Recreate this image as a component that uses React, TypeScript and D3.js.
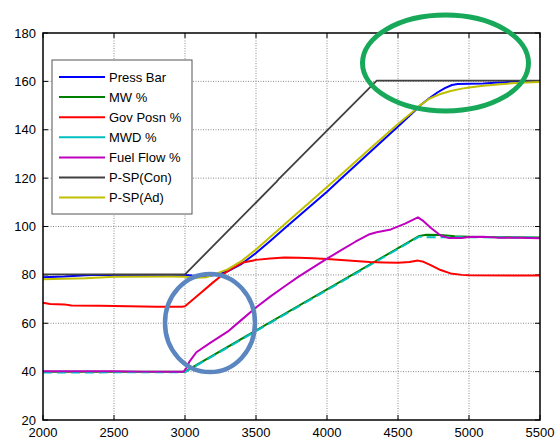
import React, { useEffect, useRef } from "react";
import * as d3 from "d3";

const W = 559;
const H = 442;

const xTicks = [2000, 2500, 3000, 3500, 4000, 4500, 5000, 5500];
const yTicks = [20, 40, 60, 80, 100, 120, 140, 160, 180];

const pressBar: [number, number][] = [
  [2000, 79], [2150, 79.3], [2300, 79.8], [2400, 80], [3000, 80], [3050, 79.7], [3150, 79.4],
  [3220, 80], [3300, 81.5], [3400, 84.6], [3500, 89], [3600, 94], [3700, 99.2], [3800, 104.2],
  [3900, 109.3], [4000, 114.4], [4100, 119.8], [4200, 125.2], [4300, 130.6], [4400, 136], [4500, 141.3],
  [4600, 146.8], [4660, 150.2], [4720, 153], [4780, 155.5], [4830, 157.2], [4880, 158.5],
  [4920, 158.9], [5000, 159], [5100, 159.1], [5180, 159.4], [5250, 159.6], [5320, 160], [5500, 160],
];
const mw: [number, number][] = [
  [2000, 40], [3000, 40], [4650, 96.1], [4700, 96.6], [4800, 96.5], [4900, 96], [5000, 95.8],
  [5200, 95.6], [5500, 95.5],
];
const govPosn: [number, number][] = [
  [2000, 68.5], [2050, 68], [2150, 67.8], [2200, 67.3], [2400, 67.2], [2600, 67], [2800, 66.8],
  [2980, 66.8], [3000, 67], [3100, 72], [3200, 77], [3250, 79.3], [3300, 81.5], [3400, 85],
  [3500, 86.2], [3600, 86.8], [3700, 87.2], [3800, 87.1], [3900, 86.9], [4000, 86.6], [4100, 86.2],
  [4200, 85.7], [4300, 85.3], [4400, 85.1], [4500, 85], [4580, 85.3], [4640, 85.9], [4680, 85.4],
  [4730, 84], [4800, 82], [4870, 80.6], [4950, 80], [5000, 79.8], [5500, 79.7],
];
const mwd: [number, number][] = [
  [2000, 39.6], [3000, 39.8], [4650, 95.8], [4700, 95.6], [5000, 95.6], [5500, 95.4],
];
const fuelFlow: [number, number][] = [
  [2000, 40.2], [2500, 40.2], [2700, 40], [2990, 40], [3010, 41.5], [3030, 44], [3080, 48],
  [3180, 52], [3300, 56.5], [3400, 61.5], [3500, 66.5], [3600, 71], [3700, 75.2], [3800, 79.3],
  [3900, 83], [4000, 86.7], [4100, 90.2], [4200, 93.7], [4300, 96.8], [4350, 97.6], [4450, 98.8],
  [4550, 101.2], [4640, 103.8], [4680, 102.2], [4730, 99.5], [4800, 96.3], [4860, 95.2],
  [4950, 95.2], [5000, 95.7], [5100, 95.8], [5200, 95.4], [5350, 95.3], [5500, 95.1],
];
const pspCon: [number, number][] = [
  [2000, 80.2], [3000, 80.2], [3640, 118.2], [3660, 119.6], [4350, 160.3], [5500, 160.3],
];
const pspAd: [number, number][] = [
  [2000, 78.2], [2300, 78.6], [2500, 79.2], [2900, 79.3], [3000, 79.2], [3080, 78.8], [3150, 79],
  [3220, 80.5], [3300, 82.3], [3400, 85.8], [3500, 90.5], [3600, 95.7], [3700, 100.8], [3800, 106],
  [3900, 111.2], [4000, 116.3], [4100, 121.5], [4200, 126.8], [4300, 132], [4400, 137.2], [4500, 142.4],
  [4600, 147.2], [4660, 150.3], [4720, 152.8], [4800, 154.8], [4870, 156], [4950, 157], [5000, 157.5],
  [5100, 158.2], [5200, 158.7], [5300, 159.2], [5400, 159.5], [5500, 159.7],
];

const seriesNames = ["Press Bar", "MW %", "Gov Posn %", "MWD %", "Fuel Flow %", "P-SP(Con)", "P-SP(Ad)"];
const seriesColors = ["#0000ff", "#008000", "#ff0000", "#00bfbf", "#bf00bf", "#404040", "#bfbf00"];
const seriesData = [pressBar, mw, govPosn, mwd, fuelFlow, pspCon, pspAd];

const FONT = "'Liberation Sans', Arial, sans-serif";

export default function App() {
  const ref = useRef<SVGSVGElement>(null);

  useEffect(() => {
    const svg = d3.select(ref.current);
    svg.selectAll("*").remove();

    const left = 43, right = 540, top = 33, bottom = 420;
    const x = d3.scaleLinear().domain([2000, 5500]).range([left, right]);
    const y = d3.scaleLinear().domain([20, 180]).range([bottom, top]);

    svg.append("rect").attr("x", 0).attr("y", 0).attr("width", W).attr("height", H).attr("fill", "#fff");

    // grid
    const grid = svg.append("g").attr("stroke", "#8a8a8a").attr("stroke-width", 1).attr("stroke-dasharray", "1,1.5");
    xTicks.slice(1, -1).forEach((t) => {
      grid.append("line").attr("x1", x(t)).attr("x2", x(t)).attr("y1", top).attr("y2", bottom);
    });
    yTicks.slice(1, -1).forEach((t) => {
      grid.append("line").attr("x1", left).attr("x2", right).attr("y1", y(t)).attr("y2", y(t));
    });

    // ticks inward
    const tk = svg.append("g").attr("stroke", "#000").attr("stroke-width", 1);
    xTicks.forEach((t) => {
      tk.append("line").attr("x1", x(t)).attr("x2", x(t)).attr("y1", bottom).attr("y2", bottom - 5);
      tk.append("line").attr("x1", x(t)).attr("x2", x(t)).attr("y1", top).attr("y2", top + 5);
    });
    yTicks.forEach((t) => {
      tk.append("line").attr("x1", left).attr("x2", left + 5).attr("y1", y(t)).attr("y2", y(t));
      tk.append("line").attr("x1", right).attr("x2", right - 5).attr("y1", y(t)).attr("y2", y(t));
    });

    // lines
    const line = d3.line<[number, number]>().x((d) => x(d[0])).y((d) => y(d[1]));
    const plot = svg.append("g");
    seriesData.forEach((data, i) => {
      const p = plot.append("path")
        .attr("d", line(data) as string)
        .attr("fill", "none")
        .attr("stroke", seriesColors[i])
        .attr("stroke-width", i === 5 ? 1.8 : 2)
        .attr("stroke-linejoin", "round");
      if (i === 3) p.attr("stroke-dasharray", "9,5");
    });

    // axes box
    svg.append("rect").attr("x", left).attr("y", top).attr("width", right - left).attr("height", bottom - top)
      .attr("fill", "none").attr("stroke", "#000").attr("stroke-width", 1.5);

    // tick labels
    const lab = svg.append("g").attr("font-family", FONT).attr("font-size", 13).attr("fill", "#000");
    xTicks.forEach((t) => {
      lab.append("text").attr("x", x(t)).attr("y", 437).attr("text-anchor", "middle").text(String(t));
    });
    yTicks.forEach((t) => {
      lab.append("text").attr("x", 36).attr("y", y(t) + 4.5).attr("text-anchor", "end").text(String(t));
    });

    // legend
    const lg = svg.append("g");
    lg.append("rect").attr("x", 52).attr("y", 60).attr("width", 140).attr("height", 154)
      .attr("fill", "#fff").attr("stroke", "#555").attr("stroke-width", 1);
    seriesNames.forEach((name, i) => {
      const yy = 77 + i * 20.1;
      lg.append("line").attr("x1", 59).attr("x2", 105).attr("y1", yy).attr("y2", yy)
        .attr("stroke", seriesColors[i]).attr("stroke-width", 2);
      lg.append("text").attr("x", 109).attr("y", yy + 4.5).attr("font-family", FONT).attr("font-size", 13)
        .attr("fill", "#000").text(name);
    });

    // annotation ellipses
    svg.append("ellipse").attr("cx", 445.5).attr("cy", 63).attr("rx", 83).attr("ry", 48)
      .attr("fill", "none").attr("stroke", "#17a85a").attr("stroke-width", 5);
    svg.append("ellipse").attr("cx", 210).attr("cy", 323).attr("rx", 45).attr("ry", 49)
      .attr("fill", "none").attr("stroke", "#5b86bf").attr("stroke-width", 4.5);
  }, []);

  return (
    <svg ref={ref} width={W} height={H} style={{ position: "absolute", left: 0, top: 0, display: "block" }} />
  );
}
